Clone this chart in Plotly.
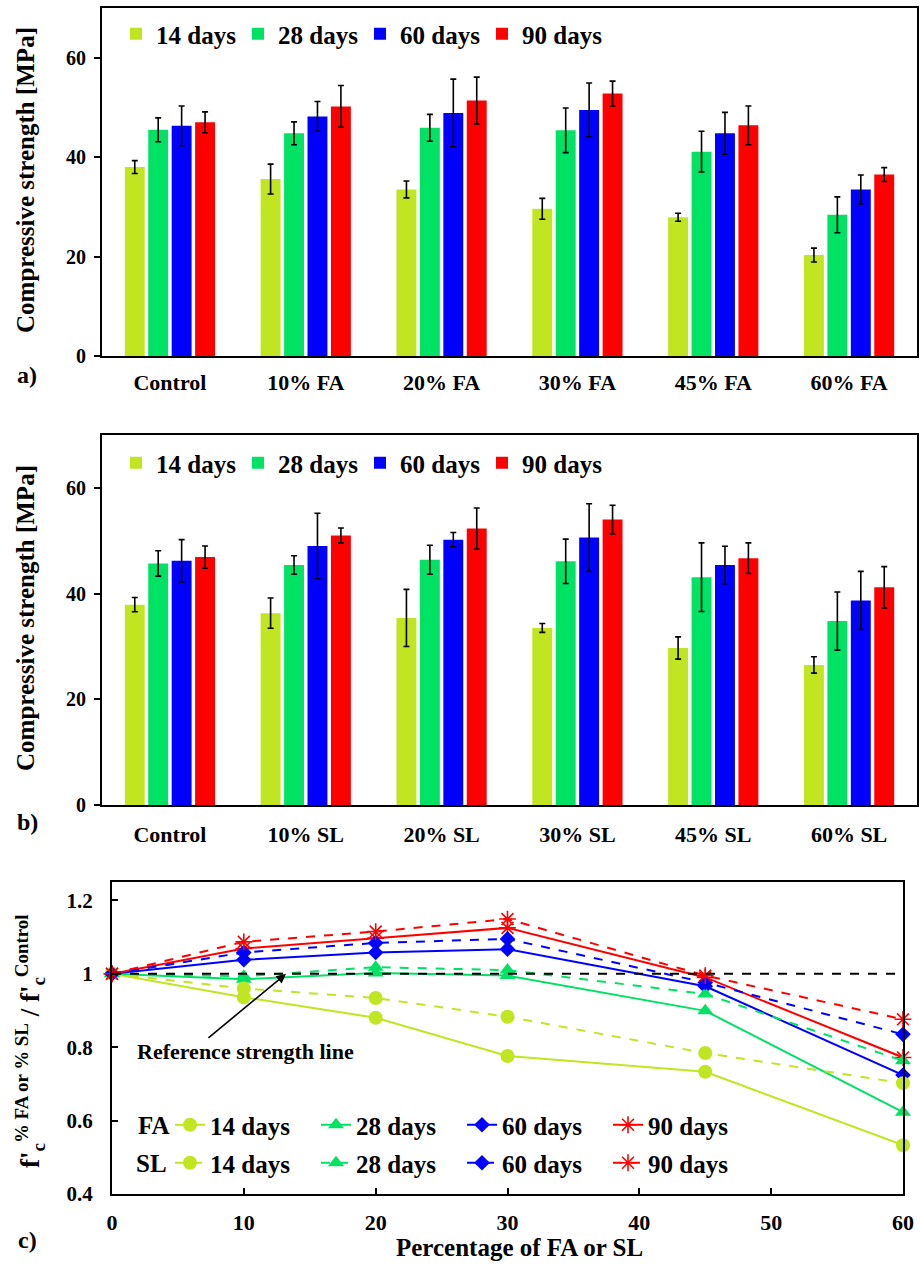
import plotly.graph_objects as go

W, H = 920, 1264
FONT = "Liberation Serif"

# ---------------- data ----------------
groups_fa = ["Control", "10% FA", "20% FA", "30% FA", "45% FA", "60% FA"]
groups_sl = ["Control", "10% SL", "20% SL", "30% SL", "45% SL", "60% SL"]
ages = ["14 days", "28 days", "60 days", "90 days"]
colors = ["#C1E520", "#00E264", "#0000FF", "#FF0000"]

fa_14 = [38.0, 35.6, 33.5, 29.6, 27.9, 20.3]
fa_14_err = [1.3, 3.0, 1.7, 2.1, 0.8, 1.4]
fa_28 = [45.5, 44.8, 45.9, 45.4, 41.1, 28.4]
fa_28_err = [2.4, 2.3, 2.7, 4.5, 4.1, 3.6]
fa_60 = [46.3, 48.2, 48.9, 49.5, 44.8, 33.5]
fa_60_err = [4.0, 3.0, 6.8, 5.4, 4.2, 2.9]
fa_90 = [47.0, 50.2, 51.4, 52.8, 46.4, 36.5]
fa_90_err = [2.1, 4.2, 4.7, 2.5, 3.9, 1.4]

sl_14 = [37.9, 36.3, 35.4, 33.5, 29.7, 26.5]
sl_14_err = [1.35, 2.85, 5.4, 0.85, 2.1, 1.55]
sl_28 = [45.7, 45.4, 46.4, 46.1, 43.1, 34.8]
sl_28_err = [2.4, 1.75, 2.75, 4.2, 6.5, 5.5]
sl_60 = [46.2, 49.0, 50.2, 50.6, 45.4, 38.7]
sl_60_err = [4.0, 6.2, 1.35, 6.4, 3.55, 5.5]
sl_90 = [46.9, 51.0, 52.3, 54.0, 46.7, 41.2]
sl_90_err = [2.1, 1.4, 3.9, 2.7, 2.9, 3.9]

pct = [0, 10, 20, 30, 45, 60]
ratio_fa_14 = [1.0, 0.936, 0.880, 0.776, 0.733, 0.533]
ratio_fa_28 = [1.0, 0.985, 1.002, 0.995, 0.899, 0.623]
ratio_fa_60 = [1.0, 1.038, 1.058, 1.067, 0.966, 0.724]
ratio_fa_90 = [1.0, 1.069, 1.097, 1.125, 0.990, 0.772]
ratio_sl_14 = [1.0, 0.960, 0.934, 0.883, 0.784, 0.702]
ratio_sl_28 = [1.0, 0.993, 1.018, 1.010, 0.945, 0.763]
ratio_sl_60 = [1.0, 1.058, 1.084, 1.095, 0.976, 0.835]
ratio_sl_90 = [1.0, 1.087, 1.115, 1.149, 0.995, 0.876]

ref_x = [0, 60]
ref_y = [1, 1]

bar_y_ticks = [0, 20, 40, 60]
ratio_y_ticks = [0.4, 0.6, 0.8, 1.0, 1.2]
ratio_y_labels = ["0.4", "0.6", "0.8", "1", "1.2"]
pct_ticks = [0, 10, 20, 30, 40, 50, 60]


def px(x):
    return x / W


def py(y):
    return 1 - y / H


def bfont(size):
    return dict(family=FONT, size=size, color="black", weight="bold")


fig = go.Figure()

fa_vals = [fa_14, fa_28, fa_60, fa_90]
fa_errs = [fa_14_err, fa_28_err, fa_60_err, fa_90_err]
sl_vals = [sl_14, sl_28, sl_60, sl_90]
sl_errs = [sl_14_err, sl_28_err, sl_60_err, sl_90_err]

for i, age in enumerate(ages):
    fig.add_trace(go.Bar(
        x=groups_fa, y=fa_vals[i], name=age, marker=dict(color=colors[i], line=dict(width=0)),
        error_y=dict(type="data", array=fa_errs[i], color="black", thickness=1.6, width=3),
        xaxis="x", yaxis="y", legend="legend", offsetgroup=str(i)))
for i, age in enumerate(ages):
    fig.add_trace(go.Bar(
        x=groups_sl, y=sl_vals[i], name=age, marker=dict(color=colors[i], line=dict(width=0)),
        error_y=dict(type="data", array=sl_errs[i], color="black", thickness=1.6, width=3),
        xaxis="x2", yaxis="y2", legend="legend2", offsetgroup=str(i)))

symbols = ["circle", "triangle-up", "diamond", "asterisk-open"]
msizes = [14, 14, 12, 14]
fa_ratios = [ratio_fa_14, ratio_fa_28, ratio_fa_60, ratio_fa_90]
sl_ratios = [ratio_sl_14, ratio_sl_28, ratio_sl_60, ratio_sl_90]


def marker(i):
    m = dict(symbol=symbols[i], size=msizes[i], color=colors[i])
    if symbols[i] == "asterisk-open":
        m["line"] = dict(color=colors[i], width=1.6)
    else:
        m["line"] = dict(width=0)
    return m


for i, age in enumerate(ages):
    fig.add_trace(go.Scatter(
        x=pct, y=fa_ratios[i], name=age, mode="lines+markers",
        line=dict(color=colors[i], width=2), marker=marker(i),
        xaxis="x3", yaxis="y3", legend="legend3", cliponaxis=False))
for i, age in enumerate(ages):
    fig.add_trace(go.Scatter(
        x=pct, y=sl_ratios[i], name=age, mode="lines+markers",
        line=dict(color=colors[i], width=2, dash="dash"), marker=marker(i),
        xaxis="x3", yaxis="y3", legend="legend4", cliponaxis=False))

fig.add_trace(go.Scatter(
    x=ref_x, y=ref_y, mode="lines", line=dict(color="black", width=2, dash="dash"),
    xaxis="x3", yaxis="y3", showlegend=False, hoverinfo="skip"))

axis_common = dict(showline=True, linecolor="black", linewidth=2, mirror=True,
                   showgrid=False, zeroline=False, automargin=False)

dom_x_bar = [px(102), px(917)]
legend_common = dict(orientation="h", xanchor="left", yanchor="middle", font=bfont(25),
                     bgcolor="rgba(0,0,0,0)", borderwidth=0, itemclick=False,
                     entrywidthmode="pixels")
fig.update_layout(
    width=W, height=H, margin=dict(l=0, r=0, t=0, b=0),
    paper_bgcolor="white", plot_bgcolor="white",
    barmode="group", bargap=0.31, bargroupgap=0.15,
    font=dict(family=FONT, color="black"),
    xaxis=dict(domain=dom_x_bar, anchor="y", type="category", ticks="",
               tickfont=bfont(22), ticklabelstandoff=6, **axis_common),
    yaxis=dict(domain=[py(356), py(8)], anchor="x", range=[0, 70], tickvals=bar_y_ticks,
               ticks="outside", ticklen=6, tickwidth=2, tickcolor="black",
               tickfont=bfont(20), ticklabelstandoff=4, **axis_common),
    xaxis2=dict(domain=dom_x_bar, anchor="y2", type="category", ticks="",
                tickfont=bfont(22), ticklabelstandoff=9, **axis_common),
    yaxis2=dict(domain=[py(805), py(435)], anchor="x2", range=[0, 70], tickvals=bar_y_ticks,
                ticks="outside", ticklen=6, tickwidth=2, tickcolor="black",
                tickfont=bfont(20), ticklabelstandoff=4, **axis_common),
    xaxis3=dict(domain=[px(112), px(903)], anchor="y3", range=[0, 60], tickvals=pct_ticks,
                ticks="inside", ticklen=6, tickwidth=2, tickcolor="black",
                tickfont=bfont(22), ticklabelstandoff=8, **axis_common),
    yaxis3=dict(domain=[py(1194), py(882)], anchor="x3", range=[0.4, 1.25],
                tickvals=ratio_y_ticks, ticktext=ratio_y_labels,
                ticks="inside", ticklen=6, tickwidth=2, tickcolor="black",
                tickfont=bfont(21), ticklabelstandoff=13, **axis_common),
    legend=dict(x=px(116), y=py(34), entrywidth=77, **legend_common),
    legend2=dict(x=px(116), y=py(463), entrywidth=77, **legend_common),
    legend3=dict(x=px(170), y=py(1125), entrywidth=101, **legend_common),
    legend4=dict(x=px(170), y=py(1163), entrywidth=101, **legend_common),
)

annotations = [
    dict(text="Compressive strength [MPa]", x=px(26), y=py(180), textangle=-90, font=bfont(25)),
    dict(text="Compressive strength [MPa]", x=px(26), y=py(618), textangle=-90, font=bfont(25)),
    dict(text="f'<sub>c</sub><sup>% FA or % SL</sup> / f'<sub>c</sub><sup>Control</sup>",
         x=px(30), y=py(1042), textangle=-90, font=bfont(27)),
    dict(text="Percentage of FA or SL", x=px(519), y=py(1247), font=bfont(25)),
    dict(text="a)", x=px(27), y=py(375), font=bfont(24)),
    dict(text="b)", x=px(27), y=py(822), font=bfont(24)),
    dict(text="c)", x=px(27), y=py(1240), font=bfont(24)),
    dict(text="FA", x=px(153), y=py(1125), font=bfont(25)),
    dict(text="SL", x=px(151), y=py(1163), font=bfont(25)),
]
for a in annotations:
    d = dict(xref="paper", yref="paper", showarrow=False, xanchor="center", yanchor="middle")
    d.update(a)
    fig.add_annotation(**d)

fig.add_annotation(text="Reference strength line", xref="x3", yref="y3", x=10.1, y=0.787,
                   showarrow=False, font=bfont(22))
fig.add_annotation(text="", xref="x3", yref="y3", x=13.2, y=1.0, axref="x3", ayref="y3",
                   ax=7.2, ay=0.822, showarrow=True, arrowhead=2, arrowsize=1.2,
                   arrowwidth=1.6, arrowcolor="black")

fig.write_html("out.html")
